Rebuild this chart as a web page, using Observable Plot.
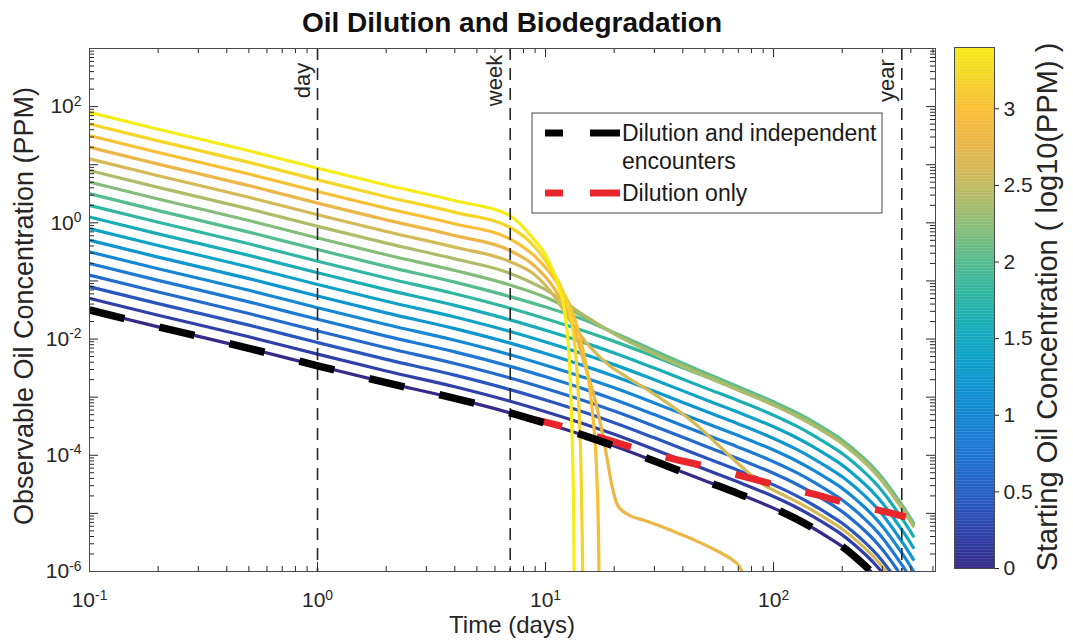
<!DOCTYPE html>
<html><head><meta charset="utf-8">
<script src="https://cdn.jsdelivr.net/npm/d3@7"></script>
<script src="https://cdn.jsdelivr.net/npm/@observablehq/plot@0.6"></script>
<style>
html,body{margin:0;padding:0;background:#fff;}
#wrap{position:relative;width:1073px;height:642px;overflow:hidden;}
#wrap svg{position:absolute;left:0;top:0;}
</style></head><body><div id="wrap"></div>
<script>
// ---------- DATA (log10 of observable concentration, PPM) ----------
const days = [0.1, 0.2, 0.5, 1, 2, 4, 7, 10, 15, 20, 30, 50, 70, 100, 125, 150, 175, 200, 225, 250, 275, 300, 325, 350, 375, 410];
const c00 = [-1.50,-1.79,-2.16,-2.46,-2.75,-3.02,-3.27,-3.45,-3.67,-3.84,-4.10,-4.44,-4.66,-4.91,-5.09,-5.26,-5.42,-5.57,-5.73,-5.89,-6.05,-6.22,-6.40,-6.58,-6.75,-6.99];
const c02 = [-1.30,-1.59,-1.96,-2.26,-2.55,-2.82,-3.07,-3.25,-3.47,-3.64,-3.90,-4.24,-4.46,-4.71,-4.89,-5.06,-5.22,-5.37,-5.53,-5.69,-5.85,-6.02,-6.20,-6.38,-6.55,-6.79];
const c04 = [-1.10,-1.39,-1.76,-2.06,-2.35,-2.62,-2.87,-3.05,-3.27,-3.44,-3.70,-4.04,-4.26,-4.51,-4.69,-4.86,-5.02,-5.17,-5.33,-5.49,-5.65,-5.82,-6.00,-6.18,-6.35,-6.59];
const c06 = [-0.90,-1.19,-1.56,-1.86,-2.15,-2.42,-2.67,-2.85,-3.07,-3.24,-3.50,-3.84,-4.06,-4.31,-4.49,-4.66,-4.82,-4.97,-5.13,-5.29,-5.45,-5.62,-5.80,-5.98,-6.15,-6.39];
const c08 = [-0.70,-0.99,-1.36,-1.66,-1.95,-2.22,-2.47,-2.65,-2.87,-3.04,-3.30,-3.64,-3.86,-4.11,-4.29,-4.46,-4.62,-4.77,-4.93,-5.09,-5.25,-5.42,-5.60,-5.78,-5.95,-6.19];
const c10 = [-0.50,-0.79,-1.16,-1.46,-1.75,-2.02,-2.27,-2.45,-2.67,-2.84,-3.10,-3.44,-3.66,-3.91,-4.09,-4.26,-4.42,-4.57,-4.73,-4.89,-5.05,-5.22,-5.40,-5.58,-5.75,-5.99];
const c12 = [-0.30,-0.59,-0.96,-1.26,-1.55,-1.82,-2.07,-2.25,-2.47,-2.64,-2.90,-3.24,-3.46,-3.71,-3.89,-4.06,-4.22,-4.37,-4.53,-4.69,-4.85,-5.02,-5.20,-5.38,-5.55,-5.79];
const c14 = [-0.10,-0.39,-0.76,-1.06,-1.35,-1.62,-1.87,-2.05,-2.27,-2.44,-2.70,-3.04,-3.26,-3.51,-3.69,-3.86,-4.02,-4.17,-4.33,-4.49,-4.65,-4.82,-5.00,-5.18,-5.35,-5.59];
const c16 = [0.10,-0.19,-0.56,-0.86,-1.15,-1.42,-1.67,-1.85,-2.07,-2.24,-2.50,-2.84,-3.06,-3.31,-3.49,-3.66,-3.82,-3.97,-4.13,-4.29,-4.45,-4.62,-4.80,-4.98,-5.15,-5.39];
const c18 = [0.30,0.01,-0.36,-0.66,-0.95,-1.22,-1.47,-1.65,-1.87,-2.04,-2.30,-2.64,-2.86,-3.11,-3.29,-3.46,-3.62,-3.77,-3.93,-4.09,-4.25,-4.42,-4.60,-4.78,-4.95,-5.19];
const c20 = [0.50,0.21,-0.16,-0.46,-0.75,-1.02,-1.27,-1.45,-1.68,-1.89,-2.20,-2.58,-2.82,-3.08,-3.26,-3.43,-3.59,-3.74,-3.90,-4.06,-4.22,-4.39,-4.57,-4.75,-4.92,-5.16];
const c22 = [0.70,0.41,0.04,-0.26,-0.55,-0.82,-1.07,-1.28,-1.63,-1.90,-2.23,-2.61,-2.85,-3.11,-3.29,-3.46,-3.62,-3.77,-3.93,-4.09,-4.25,-4.42,-4.60,-4.78,-4.95,-5.19];
const c24 = [0.90,0.61,0.24,-0.06,-0.35,-0.62,-0.87,-1.15,-1.61,-1.91,-2.26,-2.64,-2.88,-3.14,-3.32,-3.49,-3.65,-3.80,-3.96,-4.12,-4.28,-4.45,-4.63,-4.81,-4.98,-5.22];
const days26 = [0.1, 0.2, 0.5, 1, 2, 4, 7, 9, 11, 13, 15, 17, 19, 22, 30, 45, 60, 75, 90, 110, 125, 150, 175, 200, 225, 250, 275, 300, 325, 350];
const c26 = [1.10,0.81,0.44,0.14,-0.15,-0.42,-0.67,-0.90,-1.28,-1.72,-2.05,-2.28,-2.45,-2.62,-2.95,-3.45,-3.90,-4.25,-4.50,-4.68,-4.79,-4.96,-5.12,-5.27,-5.43,-5.59,-5.75,-5.92,-6.10,-6.28];
const days28 = [0.1, 0.2, 0.5, 1, 2, 4, 7, 9, 11, 13, 15, 16.5, 17.5, 18.5, 19.5, 20.7, 23, 27, 32, 38, 45, 53, 60, 67, 71, 73, 74];
const c28 = [1.30,1.01,0.64,0.34,0.05,-0.22,-0.48,-0.75,-1.15,-1.70,-2.50,-3.05,-3.50,-4.00,-4.50,-4.86,-5.02,-5.12,-5.22,-5.34,-5.46,-5.59,-5.70,-5.82,-5.92,-6.05,-6.30];
const days30 = [0.1, 0.2, 0.5, 1, 2, 4, 7, 9, 11, 13, 14.8, 16, 16.8, 17.1, 17.25];
const c30 = [1.50,1.21,0.84,0.54,0.25,-0.02,-0.28,-0.58,-0.98,-1.50,-2.30,-3.20,-4.40,-5.60,-7.00];
const days32 = [0.1, 0.2, 0.5, 1, 2, 4, 7, 9, 10.5, 12, 13.2, 13.9, 14.3, 14.5, 14.65];
const c32 = [1.70,1.41,1.04,0.74,0.45,0.18,-0.08,-0.42,-0.78,-1.22,-1.85,-2.90,-4.20,-5.50,-7.00];
const days34 = [0.1, 0.2, 0.5, 1, 2, 4, 7, 8.6, 10.2, 11.3, 12.2, 12.8, 13.1, 13.3, 13.4];
const c34 = [1.90,1.61,1.24,0.94,0.65,0.38,0.12,-0.22,-0.62,-1.05,-1.60,-2.60,-3.80,-5.20,-7.00];

// starting concentration (log10 PPM) of each curve, with its time grid and values
const startLog = [0, 0.2, 0.4, 0.6, 0.8, 1.0, 1.2, 1.4, 1.6, 1.8, 2.0, 2.2, 2.4, 2.6, 2.8, 3.0, 3.2, 3.4];
const curveDays = [days, days, days, days, days, days, days, days, days, days, days, days, days, days26, days28, days30, days32, days34];
const curveLogC = [c00, c02, c04, c06, c08, c10, c12, c14, c16, c18, c20, c22, c24, c26, c28, c30, c32, c34];

// reference lines
const encounterDays = days;          // dilution and independent encounters (black dashed)
const encounterLogC = c00;
const dilutionDays = [8.3, 10, 15, 20, 30, 50, 70, 100, 150, 200, 250, 300, 380];   // visible part of "dilution only"
const dilutionLogC = [-3.36,-3.43,-3.62,-3.77,-3.98,-4.19,-4.34,-4.50,-4.67,-4.80,-4.89,-4.96,-5.06];

// time markers
const markerDays = [1, 7, 365];
const markerLabels = ["day", "week", "year"];

// ticks
const xDecades = [0.1, 1, 10, 100];
const yDecades = [1e-6, 1e-5, 1e-4, 1e-3, 1e-2, 1e-1, 1, 10, 100];
const yLabelled = [1e-6, 1e-4, 1e-2, 1, 100];
const minorMult = [2, 3, 4, 5, 6, 7, 8, 9];
const cbTicks = [0, 0.5, 1, 1.5, 2, 2.5, 3];
const cbMax = 3.4;

// colormap (parula-like, as seen on the colour bar)
const parula = ["#352a87","#2f3fa6","#2a55be","#236acb","#1d79d4","#1587d3","#0f95cf","#0ea3c6","#19aeb6","#31b6a0","#55bb90","#82bd7a","#aebc69","#d4b957","#ecb747","#f8bf35","#f4d528","#f6ec16"];

// ---------- BUILD ----------
const rows = [];
startLog.forEach((c, i) => curveDays[i].forEach((t, j) => rows.push({c, t, v: Math.pow(10, curveLogC[i][j])})));
const enc = encounterDays.map((t, j) => ({t, v: Math.pow(10, encounterLogC[j])}));
const dil = dilutionDays.map((t, j) => ({t, v: Math.pow(10, dilutionLogC[j])}));
const markers = markerDays.map((t, i) => ({t, label: markerLabels[i]}));
const xMinor = xDecades.flatMap(d => minorMult.map(m => d * m)).filter(v => v <= 500);
const yMinor = yDecades.slice(0, -1).flatMap(d => minorMult.map(m => d * m)).concat(minorMult.map(m => 100 * m));

const W = 1073, H = 642, ML = 89, MR = 138, MT = 48, MB = 71;
const FW = W - ML - MR, FH = H - MT - MB;
const axisCol = "#262626";
const font = "'Liberation Sans', Arial, Helvetica, sans-serif";
const interp = d3.piecewise(d3.interpolateRgb, parula);
const fmt = d => "10^" + Math.round(Math.log10(d));

const main = Plot.plot({
  width: W, height: H,
  marginLeft: ML, marginRight: MR, marginTop: MT, marginBottom: MB,
  style: {fontFamily: font, fontSize: "21px", color: axisCol, background: "transparent"},
  x: {type: "log", domain: [0.1, 513], ticks: xDecades, tickFormat: fmt, tickSize: 0, tickPadding: 21, label: null},
  y: {type: "log", domain: [1e-6, 1e3], ticks: yLabelled, tickFormat: fmt, tickSize: 0, tickPadding: 8, label: null},
  color: {type: "linear", domain: [0, cbMax], interpolate: interp},
  marks: [
    Plot.line(rows, {x: "t", y: "v", z: "c", stroke: "c", strokeWidth: 3.2, curve: "monotone-x", clip: true}),
    Plot.ruleX(markers, {x: "t", stroke: axisCol, strokeWidth: 1.6, strokeDasharray: "12,8"}),
    Plot.text(markers, {x: "t", text: "label", frameAnchor: "top", rotate: -90, textAnchor: "middle", lineAnchor: "bottom", dy: 32, dx: -8, fontSize: 22, fill: axisCol}),
    Plot.line(dil, {x: "t", y: "v", stroke: "#e8262b", strokeWidth: 7, strokeDasharray: "36,36", strokeLinecap: "butt", curve: "monotone-x", clip: true}),
    Plot.line(enc, {x: "t", y: "v", stroke: "#000", strokeWidth: 7.5, strokeDasharray: "36,36", strokeLinecap: "butt", curve: "monotone-x", clip: true}),
    // inward ticks on all four sides
    Plot.tickX(xDecades, {x: d => d, insetTop: FH - 9, stroke: axisCol}),
    Plot.tickX(xDecades, {x: d => d, insetBottom: FH - 9, stroke: axisCol}),
    Plot.tickX(xMinor, {x: d => d, insetTop: FH - 5, stroke: axisCol}),
    Plot.tickX(xMinor, {x: d => d, insetBottom: FH - 5, stroke: axisCol}),
    Plot.tickY(yDecades, {y: d => d, insetRight: FW - 9, stroke: axisCol}),
    Plot.tickY(yDecades, {y: d => d, insetLeft: FW - 9, stroke: axisCol}),
    Plot.tickY(yMinor, {y: d => d, insetRight: FW - 5, stroke: axisCol}),
    Plot.tickY(yMinor, {y: d => d, insetLeft: FW - 5, stroke: axisCol}),
    Plot.frame({stroke: "#4a4a4a", strokeWidth: 1})
  ]
});

// superscript exponents on the log tick labels
d3.select(main).selectAll("text").each(function() {
  const m = /^10\^(-?\d+)$/.exec(this.textContent);
  if (!m) return;
  const el = d3.select(this);
  el.text(null);
  el.append("tspan").text("10");
  el.append("tspan").attr("dy", "-0.55em").attr("font-size", "0.66em").text(m[1]);
});

// colour bar
const cbSteps = d3.range(0, cbMax, 0.01);
const cbar = Plot.plot({
  width: 133, height: H,
  marginLeft: 14, marginRight: 79, marginTop: 47, marginBottom: 74,
  style: {fontFamily: font, fontSize: "21px", color: axisCol, background: "transparent"},
  x: {domain: [0, 1], axis: null},
  y: {domain: [0, cbMax], ticks: cbTicks, tickFormat: d => String(d), tickSize: 4, tickPadding: 5, axis: "right", label: null},
  color: {type: "linear", domain: [0, cbMax], interpolate: interp},
  marks: [
    Plot.rect(cbSteps, {x1: 0, x2: 1, y1: d => d, y2: d => Math.min(cbMax, d + 0.012), fill: d => d + 0.005}),
    Plot.frame({stroke: "#4a4a4a", strokeWidth: 1})
  ]
});

const wrap = document.getElementById("wrap");
wrap.appendChild(main);
cbar.style.left = "940px";
wrap.appendChild(cbar);

// titles, axis labels and legend
const ov = d3.create("svg").attr("width", W).attr("height", H)
  .style("font-family", font).style("pointer-events", "none");
ov.append("text").attr("x", 512).attr("y", 32).attr("text-anchor", "middle").attr("font-weight", "bold").attr("font-size", 28).attr("fill", "#111").text("Oil Dilution and Biodegradation");
ov.append("text").attr("x", 512).attr("y", 633).attr("text-anchor", "middle").attr("font-size", 24).attr("fill", axisCol).text("Time (days)");
ov.append("text").attr("transform", "translate(33,306) rotate(-90)").attr("text-anchor", "middle").attr("font-size", 27).attr("fill", axisCol).text("Observable Oil Concentration (PPM)");
ov.append("text").attr("transform", "translate(1057,307) rotate(-90)").attr("text-anchor", "middle").attr("font-size", 29).attr("fill", axisCol).text("Starting Oil Concentration ( log10(PPM) )");

const lg = ov.append("g");
lg.append("rect").attr("x", 532).attr("y", 113).attr("width", 350).attr("height", 100).attr("fill", "#fff").attr("stroke", "#4a4a4a").attr("stroke-width", 1);
[[133, "#000"], [193, "#e8262b"]].forEach(([y, col]) => {
  lg.append("line").attr("x1", 545).attr("x2", 563).attr("y1", y).attr("y2", y).attr("stroke", col).attr("stroke-width", 7);
  lg.append("line").attr("x1", 590).attr("x2", 620).attr("y1", y).attr("y2", y).attr("stroke", col).attr("stroke-width", 7);
});
lg.append("text").attr("x", 622).attr("y", 141).attr("font-size", 23).attr("fill", "#1a1a1a").text("Dilution and independent");
lg.append("text").attr("x", 622).attr("y", 169).attr("font-size", 23).attr("fill", "#1a1a1a").text("encounters");
lg.append("text").attr("x", 622).attr("y", 201).attr("font-size", 23).attr("fill", "#1a1a1a").text("Dilution only");
wrap.appendChild(ov.node());
</script></body></html>
